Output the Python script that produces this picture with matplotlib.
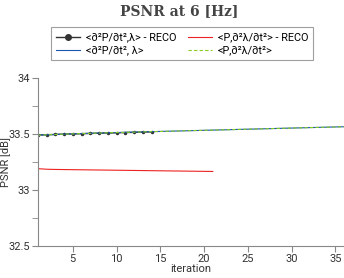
import matplotlib
matplotlib.use("Agg")
import matplotlib.pyplot as plt
from matplotlib.legend_handler import HandlerLine2D

plt.rcParams['font.family'] = ['Roboto', 'DejaVu Sans']

it_reco_p = list(range(1, 15))
psnr_reco_p = [33.490, 33.493, 33.495, 33.498, 33.500, 33.502, 33.504, 33.506, 33.508, 33.510, 33.512, 33.514, 33.516, 33.518]
it_reco_l = list(range(1, 22))
psnr_reco_l = [33.190, 33.185, 33.183, 33.182, 33.181, 33.180, 33.179, 33.178, 33.177, 33.176, 33.175, 33.174, 33.173, 33.172, 33.171, 33.170, 33.169, 33.168, 33.167, 33.166, 33.165]
it_full = list(range(1, 37))
psnr_p = [33.488, 33.492, 33.495, 33.498, 33.500, 33.503, 33.505, 33.508, 33.510, 33.512, 33.514, 33.516, 33.518, 33.520, 33.522, 33.524, 33.526, 33.528, 33.530, 33.532, 33.534, 33.536, 33.538, 33.540, 33.542, 33.544, 33.546, 33.548, 33.550, 33.552, 33.554, 33.556, 33.558, 33.560, 33.562, 33.564]
psnr_l = psnr_p

labels = ['<∂²P/∂t²,λ> - RECO', '<P,∂²λ/∂t²> - RECO', '<∂²P/∂t², λ>', '<P,∂²λ/∂t²>']
xticks = [5, 10, 15, 20, 25, 30, 35]
yticks = [32.5, 33, 33.5, 34]

fig = plt.figure(figsize=(3.44, 2.78), dpi=100)
ax = fig.add_axes([0.11, 0.115, 0.89, 0.605])

l1, = ax.plot(it_reco_p, psnr_reco_p, color='#333333', marker='o', markersize=1.5, linewidth=1.0)
l2, = ax.plot(it_reco_l, psnr_reco_l, color='#ee2222', linewidth=0.8)
l3, = ax.plot(it_full, psnr_p, color='#1a55b0', linewidth=0.8)
l4, = ax.plot(it_full, psnr_l, color='#88cc22', linewidth=0.8, linestyle=(0, (3, 2)))

ax.set_xlim(1, 36)
ax.set_ylim(32.5, 34)
ax.set_xticks(xticks)
ax.set_yticks(yticks)
ax.set_yticklabels(['32.5', '33', '33.5', '34'])
ax.set_yticks([32.75, 33.25, 33.75], minor=True)
for s in ['top', 'right']:
    ax.spines[s].set_visible(False)
for s in ['left', 'bottom']:
    ax.spines[s].set_color('#888888')
ax.tick_params(axis='both', which='both', direction='out', colors='#888888', labelcolor='#333333', labelsize=8, length=4, pad=1.5)
ax.set_xlabel('iteration', fontsize=8, color='#333333', labelpad=0)
ax.set_ylabel('PSNR [dB]', fontsize=8, color='#333333')
ax.yaxis.set_label_coords(-0.088, 0.5)

fig.suptitle('PSNR at 6 [Hz]', x=0.52, y=0.985, fontsize=10, fontweight='bold', color='#444444', family=['DejaVu Serif'])

def enlarge(legline, orig):
    legline.update_from(orig)
    legline.set_markersize(4)

leg = fig.legend([l1, l3, l2, l4], [labels[0], labels[2], labels[1], labels[3]], ncol=2, loc='center',
                 bbox_to_anchor=(0.53, 0.842), numpoints=1,
                 fontsize=7.8, frameon=True, fancybox=False, edgecolor='#888888',
                 handlelength=2.2, columnspacing=1.0, handletextpad=0.6, borderpad=0.45, labelspacing=0.3,
                 handler_map={l1: HandlerLine2D(update_func=enlarge)})
leg.get_frame().set_linewidth(0.8)

fig.savefig('out.png', dpi=100)
